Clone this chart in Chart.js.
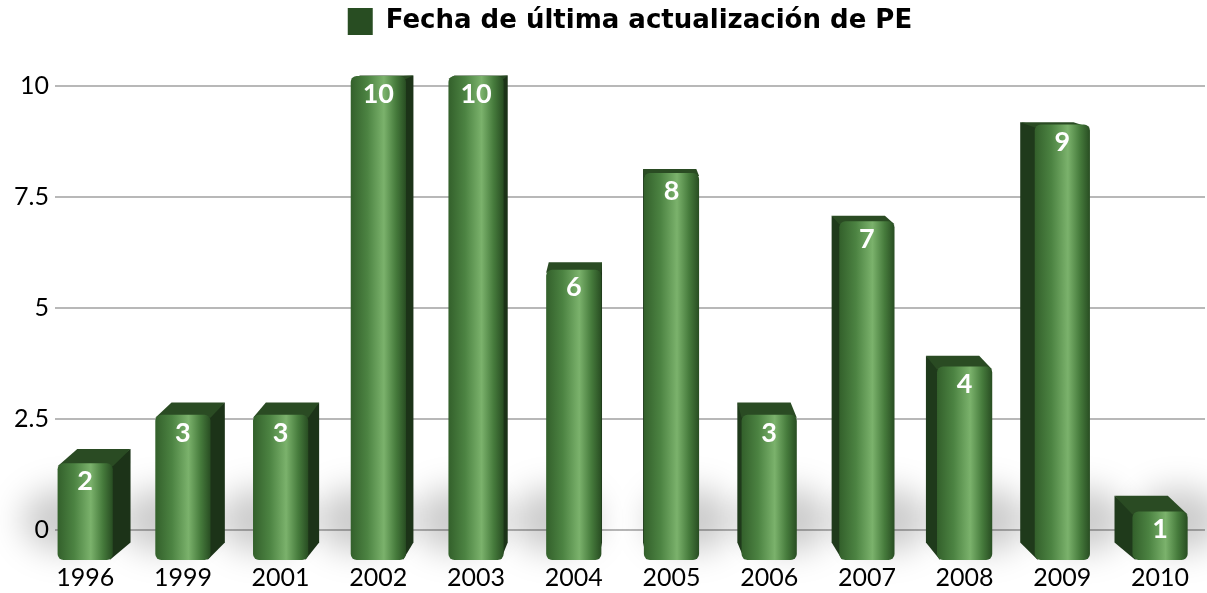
<!DOCTYPE html>
<html>
<head>
<meta charset="utf-8">
<script src="https://cdn.jsdelivr.net/npm/chart.js@4.4.0/dist/chart.umd.min.js"></script>
<style>
  html, body { margin: 0; padding: 0; background: #fff; }
  #wrap { width: 1207px; height: 593px; }
</style>
</head>
<body>
<div id="wrap"><canvas id="chart"></canvas></div>
<script>
// data
const years = ['1996', '1999', '2001', '2002', '2003', '2004', '2005', '2006', '2007', '2008', '2009', '2010'];
const counts = [2, 3, 3, 10, 10, 6, 8, 3, 7, 4, 9, 1];
const yTicks = [0, 2.5, 5, 7.5, 10];
const seriesName = 'Fecha de última actualización de PE';

const GREEN = '#35652c';
const BAR_PCT = 0.565;
// fake 3d: back face is the front face pulled toward a vanishing point
const VP_X = 620, VP_Y = 60, DEPTH = 0.035;

function back(x, y) {
    return [x + (VP_X - x) * DEPTH, y + (VP_Y - y) * DEPTH];
}

function poly(ctx, pts, color) {
    ctx.beginPath();
    ctx.moveTo(pts[0][0], pts[0][1]);
    for (let i = 1; i < pts.length; i++) ctx.lineTo(pts[i][0], pts[i][1]);
    ctx.closePath();
    ctx.fillStyle = color;
    ctx.fill();
}

const prism = {
    id: 'prism',
    beforeDatasetsDraw(chart) {
        const ctx = chart.ctx;
        const bars = chart.getDatasetMeta(0).data;
        // soft floor shadows
        ctx.save();
        ctx.filter = 'blur(16px)';
        ctx.fillStyle = 'rgba(0,0,0,0.2)';
        bars.forEach(b => {
            const side = b.x < VP_X ? -1 : 1;
            ctx.beginPath();
            ctx.ellipse(b.x + side * b.width * 0.35, b.base - 40, b.width * 0.8, 32, 0, 0, Math.PI * 2);
            ctx.fill();
        });
        ctx.restore();

        ctx.save();
        bars.forEach(b => {
            const l = b.x - b.width / 2, r = b.x + b.width / 2;
            const top = b.y, base = b.base;
            if (r < VP_X) {
                poly(ctx, [[r - 3, top], back(r, top), back(r, base), [r - 3, base]], '#1c3318');
            }
            if (l > VP_X) {
                poly(ctx, [[l + 3, top], back(l, top), back(l, base), [l + 3, base]], '#1f3a1b');
            }
            if (top > VP_Y) {
                poly(ctx, [[l, top + 3], [r, top + 3], back(r, top), back(l, top)], '#2a4b23');
            }
        });
        ctx.restore();
    },
    afterDatasetsDraw(chart) {
        const ctx = chart.ctx;
        const bars = chart.getDatasetMeta(0).data;
        ctx.save();
        ctx.font = 'bold 27px Lato';
        ctx.fillStyle = '#ffffff';
        ctx.textAlign = 'center';
        ctx.textBaseline = 'middle';
        bars.forEach((b, i) => {
            ctx.fillText(String(counts[i]), b.x, b.y + 18);
        });
        ctx.restore();
    }
};

new Chart(document.getElementById('chart'), {
    type: 'bar',
    data: {
        datasets: [{
            label: seriesName,
            data: counts.map((v, i) => ({ x: i, y: v })),
            yAxisID: 'yb',
            clip: false,
            backgroundColor: (c) => {
                const ch = c.chart;
                if (c.type !== 'data' || !ch.chartArea) return GREEN;
                const xs = ch.scales.x;
                const cx = xs.getPixelForValue(c.dataIndex);
                const half = (xs.getPixelForValue(1) - xs.getPixelForValue(0)) * BAR_PCT / 2;
                const g = ch.ctx.createLinearGradient(cx - half, 0, cx + half, 0);
                g.addColorStop(0, '#33602b');
                g.addColorStop(0.3, '#4c8342');
                g.addColorStop(0.6, '#7bb26c');
                g.addColorStop(0.82, '#467b3c');
                g.addColorStop(1, '#284d22');
                return g;
            },
            borderWidth: 0,
            borderRadius: 6,
            borderSkipped: false,
            categoryPercentage: 1,
            barPercentage: BAR_PCT
        }]
    },
    options: {
        responsive: true,
        maintainAspectRatio: false,
        animation: false,
        layout: { padding: { left: 8, right: 2, top: 0, bottom: 0 } },
        plugins: {
            legend: {
                display: true,
                position: 'top',
                fullSize: false,
                labels: {
                    boxWidth: 25,
                    boxHeight: 27,
                    padding: 8,
                    color: '#000',
                    font: { family: 'DejaVu Sans', size: 26, weight: 'bold' }
                }
            },
            tooltip: { enabled: false }
        },
        scales: {
            x: {
                type: 'linear',
                offset: false,
                min: -0.31,
                max: 11.46,
                afterBuildTicks: (axis) => { axis.ticks = years.map((_, i) => ({ value: i })); },
                ticks: {
                    callback: (v) => years[v],
                    color: '#000',
                    padding: 0,
                    maxRotation: 0,
                    autoSkip: false,
                    font: { family: 'Lato', size: 25 }
                },
                grid: { display: false, drawTicks: false },
                border: { display: false }
            },
            y: {
                position: 'left',
                min: -0.747,
                max: 10.928,
                afterBuildTicks: (axis) => { axis.ticks = yTicks.map(v => ({ value: v })); },
                ticks: {
                    color: '#000',
                    padding: 6,
                    font: { family: 'Lato', size: 25 }
                },
                grid: { color: '#b8b8b8', lineWidth: 2, drawTicks: false },
                border: { display: false }
            },
            yb: {
                display: false,
                min: -0.062,
                max: 10.643
            }
        }
    },
    plugins: [prism]
});
</script>
</body>
</html>
